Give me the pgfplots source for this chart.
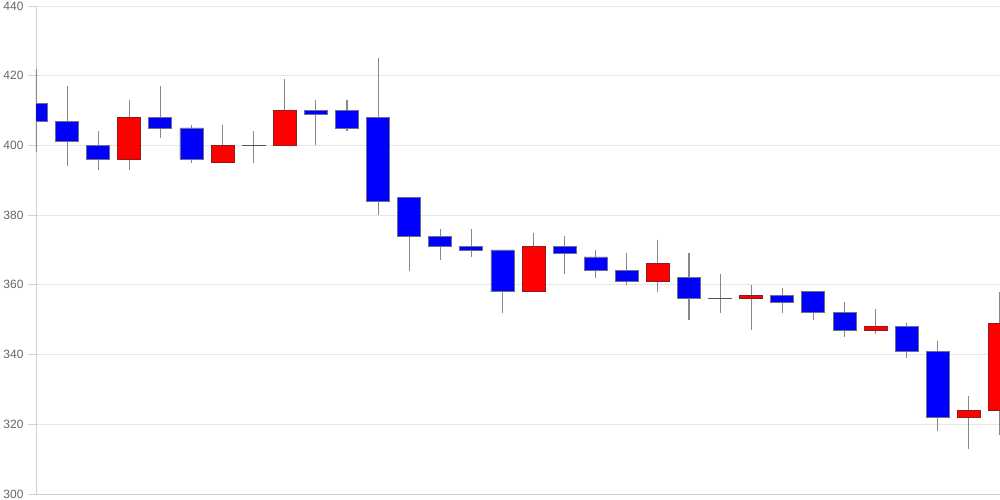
\documentclass[border=0pt]{standalone}
\usepackage{fontspec}
\setmainfont{Liberation Sans}
\usepackage{pgfplots}
\usepackage{pgfplotstable}
\pgfplotsset{compat=1.18}
\definecolor{gridc}{HTML}{E6E6E6}
\definecolor{axc}{HTML}{D0D0D0}
\definecolor{labc}{HTML}{666666}
\definecolor{wickc}{HTML}{888888}
\definecolor{blueout}{HTML}{6E6E8C}
\definecolor{redout}{HTML}{8C1E1E}
\definecolor{dojic}{HTML}{555555}

% wicks: x y, separated by nan rows
\pgfplotstableread{
x y
0 422
0 398
0 nan
1 417
1 394
1 nan
2 404
2 393
2 nan
3 413
3 393
3 nan
4 417
4 402
4 nan
5 406
5 395
5 nan
6 406
6 395
6 nan
7 404
7 395
7 nan
8 419
8 400
8 nan
9 413
9 400
9 nan
10 413
10 404
10 nan
11 425
11 380
11 nan
12 385
12 364
12 nan
13 376
13 367
13 nan
14 376
14 368
14 nan
15 370
15 352
15 nan
16 375
16 358
16 nan
17 374
17 363
17 nan
18 370
18 362
18 nan
19 369
19 360
19 nan
20 373
20 358
20 nan
21 369
21 350
21 nan
22 363
22 352
22 nan
23 360
23 347
23 nan
24 359
24 352
24 nan
25 358
25 350
25 nan
26 355
26 345
26 nan
27 353
27 346
27 nan
28 349
28 339
28 nan
29 344
29 318
29 nan
30 328
30 313
30 nan
31 358
31 317
}\wicks

% falling candles (blue): x, lower body edge, body height
\pgfplotstableread{
x base body
0 407 5
1 401 6
2 396 4
4 405 3
5 396 9
9 409 1
10 405 5
11 384 24
12 374 11
13 371 3
14 370 1
15 358 12
17 369 2
18 364 4
19 361 3
21 356 6
24 355 2
25 352 6
26 347 5
28 341 7
29 322 19
}\falling

% rising candles (red)
\pgfplotstableread{
x base body
3 396 12
6 395 5
8 400 10
16 358 13
20 361 5
23 356 1
27 347 1
30 322 2
31 324 25
}\rising

% unchanged candles (doji): open = close
\pgfplotstableread{
x base body
7 399.95 0.1
22 355.95 0.1
}\doji

\pgfplotsset{common/.style={
  scale only axis, width=964pt, height=488pt,
  xmin=0, xmax=31, ymin=300, ymax=440}}
\pgfplotsset{overlay/.style={common, hide axis, ybar stacked, bar width=0.74}}

\begin{document}
\begin{tikzpicture}
\begin{axis}[common, name=ax,
  axis lines=left,
  axis line style={draw=axc, -},
  xtick=\empty,
  ytick={300,320,...,440},
  ymajorgrids, grid style={draw=gridc, line width=0.8pt},
  tick align=outside, major tick length=8pt,
  tick style={draw=axc, line width=0.8pt},
  y tick label style={font=\fontsize{12}{14}\selectfont, text=labc, xshift=-1pt},
  /pgf/number format/assume math mode=true,
  unbounded coords=jump]
\addplot[draw=wickc, line width=1.1pt, mark=none] table[x=x, y=y] {\wicks};
\end{axis}
\begin{axis}[overlay]
\addplot[draw=none, fill=none] table[x=x, y=base] {\falling};
\addplot[fill=blue, draw=blueout, line width=0.9pt] table[x=x, y=body] {\falling};
\end{axis}
\begin{axis}[overlay]
\addplot[draw=none, fill=none] table[x=x, y=base] {\rising};
\addplot[fill=red, draw=redout, line width=0.9pt] table[x=x, y=body] {\rising};
\end{axis}
\begin{axis}[overlay]
\addplot[draw=none, fill=none] table[x=x, y=base] {\doji};
\addplot[fill=dojic, draw=dojic, line width=1pt] table[x=x, y=body] {\doji};
\end{axis}
\pgfresetboundingbox
\path[use as bounding box] ([shift={(-36pt,-6pt)}]ax.south west) rectangle ([shift={(0pt,6pt)}]ax.north east);
\end{tikzpicture}
\end{document}
